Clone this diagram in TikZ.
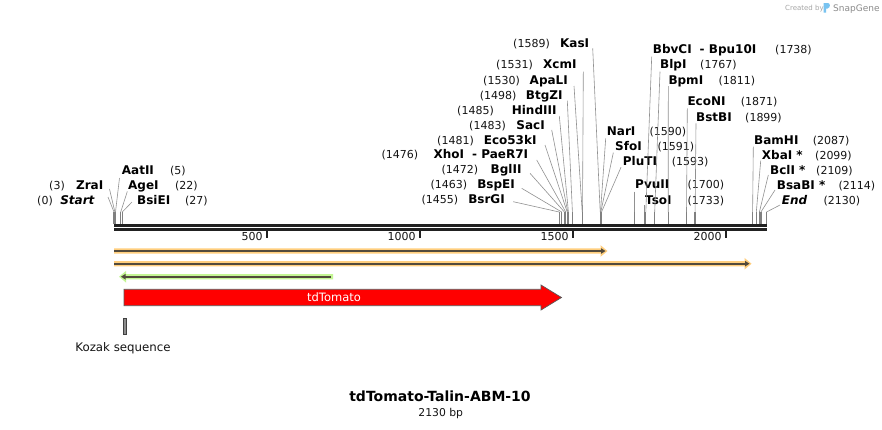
\documentclass[tikz,border=0pt]{standalone}
\usepackage{fontspec}
\setmainfont{DejaVu Sans}
\definecolor{orband}{RGB}{255,206,125}
\definecolor{grband}{RGB}{196,246,148}
\definecolor{featline}{RGB}{82,74,60}
\definecolor{tickgray}{RGB}{128,128,128}
\definecolor{conngray}{RGB}{145,145,145}
\definecolor{numtxt}{RGB}{20,20,20}
\definecolor{sgblue}{RGB}{120,195,240}
\newcommand\numfont{\fontsize{11}{13}\selectfont}
\newcommand\namefont{\fontsize{12}{14}\selectfont\bfseries}
\tikzset{
  num/.style={font=\numfont, text=numtxt, inner sep=0pt},
  nm/.style={font=\namefont, text=black, inner sep=0pt},
  conn/.style={draw=conngray, line width=0.6pt},
  sitetick/.style={draw=tickgray, line width=1.3pt},
  track/.style={draw=black!87, line width=2.6pt},
  rulertick/.style={draw=black!87, line width=2pt},
  featcore/.style={draw=featline, line width=1.8pt},
}
% label on the left of its connector: (num) Name
\newcommand\siteL[9]{%
  \coordinate (t#1) at (#2,212);
  \coordinate (b#1) at (#2,224);
  \draw[sitetick] (t#1) -- (b#1);
  \node[nm, anchor=base east] (n#1) at (#5,#7+4) {#4};
  \node[num, anchor=base east] (p#1) at (#6,#7+4) {#3};
  \coordinate (c#1) at (#8,#9);
  \draw[conn] (c#1) -- (t#1);
}
% label on the right of its connector: Name (num)
\newcommand\siteR[9]{%
  \coordinate (t#1) at (#2,212);
  \coordinate (b#1) at (#2,224);
  \draw[sitetick] (t#1) -- (b#1);
  \node[nm, anchor=base west] (n#1) at (#5,#7+4) {#4};
  \node[num, anchor=base west] (p#1) at (#6,#7+4) {#3};
  \coordinate (c#1) at (#8,#9);
  \draw[conn] (c#1) -- (t#1);
}
\begin{document}
\begin{tikzpicture}[x=1pt,y=-1pt]
\useasboundingbox (0,0) rectangle (882,429);
\fill[white] (0,0) rectangle (882,429);

% SnapGene credit
\node[font=\fontsize{7}{8}\selectfont, text=black!35, anchor=base west, inner sep=0] (cred) at (785,10) {Created by};
\fill[sgblue] (823.5,3) -- (828,3) .. controls (830.5,3) and (830.5,8) .. (827.5,8.5) -- (826,8.5) -- (826,12.5) -- (823.5,12.5) -- cycle;
\node[font=\fontsize{9}{10}\selectfont, text=black!45, anchor=base west, inner sep=0] (sg) at (833,11) {SnapGene};

% left group
\siteL{st}{114}{(0)}{\textit{Start}}{95}{53}{200}{108}{197}
\siteL{zr}{114.9}{(3)}{ZraI}{103.5}{65}{185}{109.5}{189}
\siteR{aat}{115.5}{(5)}{AatII}{121.7}{170}{170}{119.5}{178}
\siteR{age}{120.7}{(22)}{AgeI}{128}{175}{185}{127.3}{191.5}
\siteR{bsie}{122.3}{(27)}{BsiEI}{137}{185}{200}{132}{202}

% middle left
\siteL{kas}{600.2}{(1589)}{KasI}{589.3}{550}{43.3}{592.7}{48.3}
\siteL{xcm}{582.5}{(1531)}{XcmI}{576.7}{533}{64.3}{583.3}{71.7}
\siteL{apa}{582.2}{(1530)}{ApaLI}{568}{520}{80}{574}{86}
\siteL{btg}{572.4}{(1498)}{BtgZI}{562.7}{516.7}{95}{567.3}{100.7}
\siteL{hin}{568.4}{(1485)}{HindIII}{556.7}{494}{110}{559.3}{116}
\siteL{sac}{567.8}{(1483)}{SacI}{545}{506}{125}{551.7}{130}
\siteL{eco}{567.2}{(1481)}{Eco53kI}{536.7}{474}{140}{545}{145}
\siteL{xho}{565.7}{(1476)}{XhoI\hspace{8pt}- PaeR7I}{528.3}{418.3}{154.3}{536.7}{160}
\siteL{bgl}{564.4}{(1472)}{BglII}{521.7}{478.3}{169.3}{530}{173.3}
\siteL{bsp}{561.7}{(1463)}{BspEI}{515}{467.3}{184}{521.7}{188.3}
\siteL{bsr}{559.2}{(1455)}{BsrGI}{505}{458.3}{199.3}{513.3}{201.7}

% middle right
\siteR{nar}{600.5}{(1590)}{NarI}{606.7}{649.3}{131.7}{605.7}{138.3}
\siteR{sfo}{600.8}{(1591)}{SfoI}{615}{657.3}{146}{613.3}{152.7}
\siteR{plu}{601.5}{(1593)}{PluTI}{622.7}{671.7}{161.7}{621}{167.3}
\siteR{pvu}{634.2}{(1700)}{PvuII}{635}{687.3}{184}{634.2}{191.7}
\siteR{tso}{644.3}{(1733)}{TsoI}{645}{687.3}{200}{644.3}{205}
\siteR{bbv}{645.8}{(1738)}{BbvCI\hspace{8pt}- Bpu10I}{652.7}{775}{49.3}{651.7}{56.7}
\siteR{blp}{654.7}{(1767)}{BlpI}{660}{700}{64.3}{660}{71.7}
\siteR{bpm}{668.2}{(1811)}{BpmI}{668.3}{718.3}{80}{668.3}{86}
\siteR{econ}{686.5}{(1871)}{EcoNI}{687.3}{740.7}{101.7}{687.3}{108.3}
\siteR{bst}{695.1}{(1899)}{BstBI}{696}{745}{117.3}{696}{123.3}

% right group
\siteR{bam}{752.6}{(2087)}{BamHI}{754}{812.7}{140.7}{753.3}{146.7}
\siteR{xba}{756.3}{(2099)}{XbaI *}{761.7}{815}{155}{760.7}{160.7}
\siteR{bcl}{759.4}{(2109)}{BclI *}{770}{816}{170}{768.3}{175}
\siteR{bsa}{760.9}{(2114)}{BsaBI *}{776.7}{838.3}{185}{775}{190}
\siteR{end}{766.5}{(2130)}{\textit{End}}{781.7}{823.3}{200}{780}{205}

% sequence track
\coordinate (trA1) at (114,225.3); \coordinate (trA2) at (767.3,225.3);
\coordinate (trB1) at (114,229.7); \coordinate (trB2) at (767.3,229.7);
\draw[track] (trA1) -- (trA2);
\draw[track] (trB1) -- (trB2);

% ruler
\foreach \v/\x in {500/267,1000/420,1500/573,2000/726}{
  \coordinate (rt\v) at (\x,230.5);
  \coordinate (rb\v) at (\x,238);
  \draw[rulertick] (rt\v) -- (rb\v);
  \node[num, anchor=base east] (rl\v) at (\x-4.3,240.5) {\v};
}

% orange feature 1
\fill[orband] (114,248.3) -- (600.5,248.3) -- (600.5,245.2) -- (607.5,251) -- (600.5,256.8) -- (600.5,253.7) -- (114,253.7) -- cycle;
\coordinate (o1a) at (114,251); \coordinate (o1b) at (601.5,251);
\draw[featcore] (o1a) -- (o1b);
\fill[featline] (601,248.2) -- (605.5,251) -- (601,253.8) -- cycle;

% orange feature 2
\fill[orband] (114,261) -- (744.5,261) -- (744.5,257.9) -- (751.5,263.7) -- (744.5,269.5) -- (744.5,266.4) -- (114,266.4) -- cycle;
\coordinate (o2a) at (114,263.7); \coordinate (o2b) at (745.5,263.7);
\draw[featcore] (o2a) -- (o2b);
\fill[featline] (745,260.9) -- (749.5,263.7) -- (745,266.5) -- cycle;

% green feature (reverse)
\fill[grband] (333,274) -- (126,274) -- (126,270.9) -- (119,276.7) -- (126,282.5) -- (126,279.4) -- (333,279.4) -- cycle;
\coordinate (g1a) at (331,276.7); \coordinate (g1b) at (125,276.7);
\draw[featcore] (g1a) -- (g1b);
\fill[featline] (125.5,273.9) -- (121,276.7) -- (125.5,279.5) -- cycle;

% tdTomato
\filldraw[fill=red, draw=black!65, line width=0.7pt] (124,289.3) -- (541,289.3) -- (541,285) -- (561.5,297.5) -- (541,310) -- (541,305.7) -- (124,305.7) -- cycle;
\node[font=\fontsize{11.5}{13}\selectfont, text=white, inner sep=0] (tdt) at (334,297.5) {tdTomato};

% Kozak
\filldraw[fill=black!45, draw=black!75, line width=0.6pt] (123.3,318) rectangle (126.7,334);
\node[font=\fontsize{11.8}{14}\selectfont, text=numtxt, anchor=base, inner sep=0] (koz) at (123,351.5) {Kozak sequence};

% title
\node[font=\fontsize{14}{16}\selectfont\bfseries, anchor=base, inner sep=0] (title) at (440,401.5) {tdTomato-Talin-ABM-10};
\node[font=\fontsize{10.8}{12}\selectfont, text=numtxt, anchor=base, inner sep=0] (len) at (440.8,416.5) {2130 bp};
\end{tikzpicture}
\end{document}
